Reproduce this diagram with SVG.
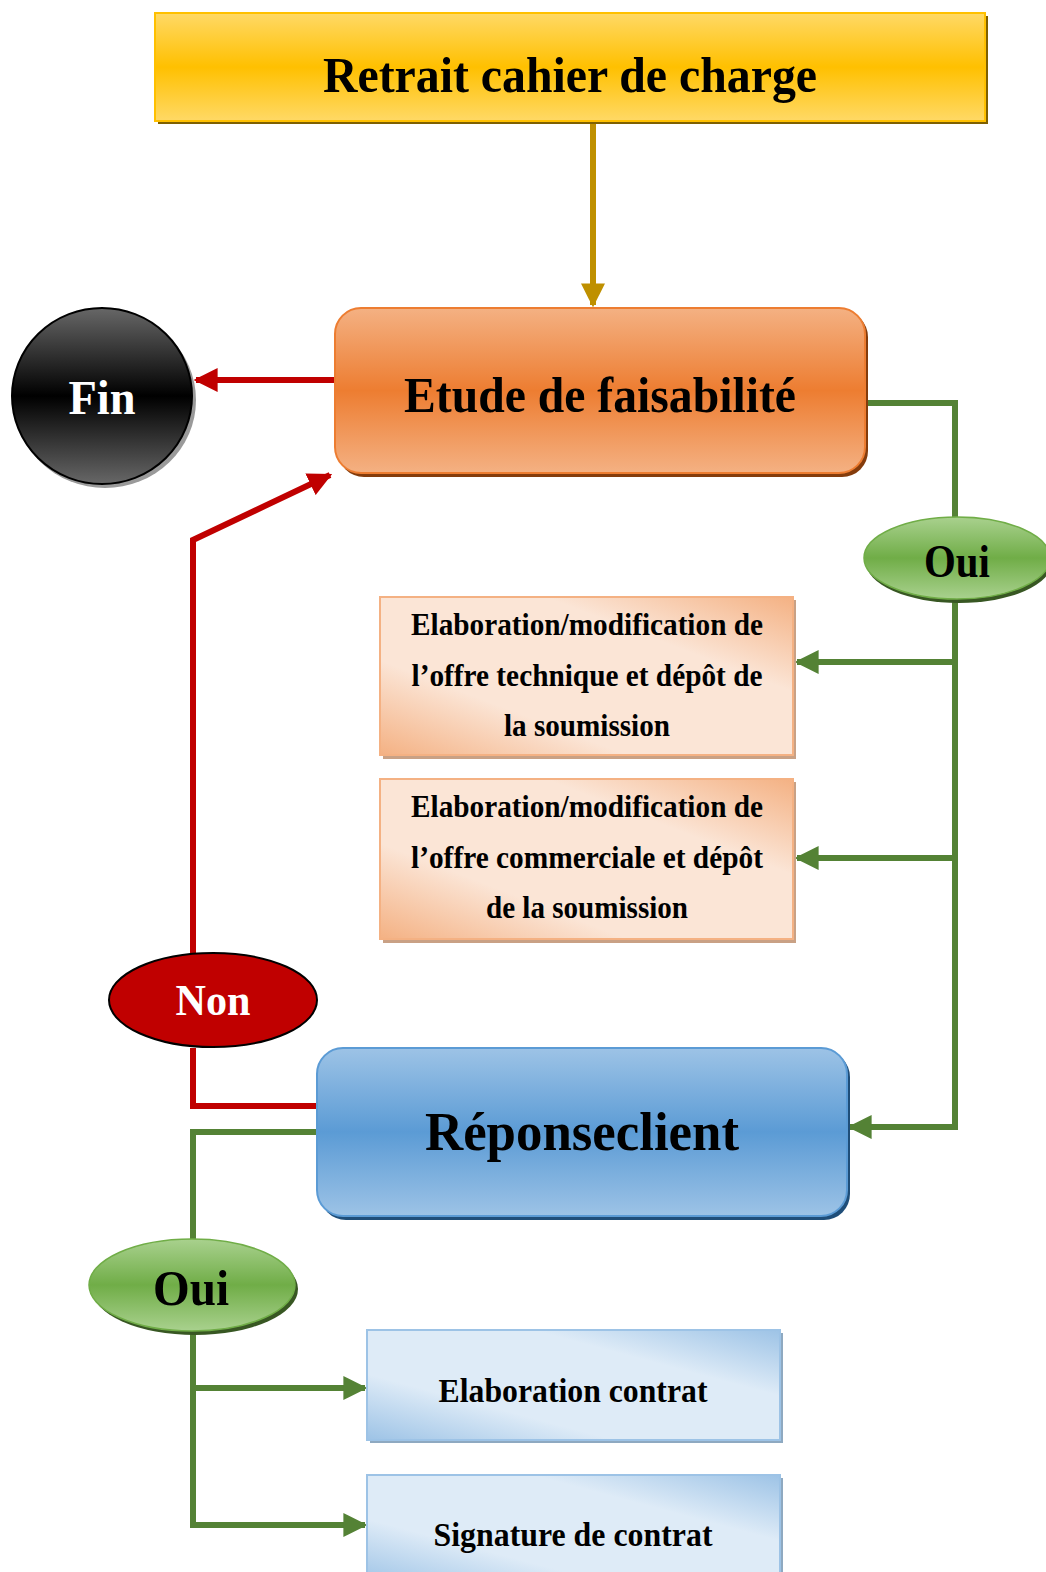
<svg xmlns="http://www.w3.org/2000/svg" width="1046" height="1572" viewBox="0 0 1046 1572">
<style>
text{font-family:"Liberation Serif","Times New Roman",serif;font-weight:bold;text-anchor:middle}
.dark{fill:#000}
.white{fill:#fff}
.red{stroke:#c00000;stroke-width:6;fill:none}
.grn{stroke:#548235;stroke-width:6;fill:none}
.gold{stroke:#bf9000;stroke-width:6;fill:none}
</style>
<defs>
<linearGradient id="gYel" x1="0" y1="0" x2="0" y2="1"><stop offset="0" stop-color="#ffd966"/><stop offset="0.5" stop-color="#ffc000"/><stop offset="1" stop-color="#ffd966"/></linearGradient>
<linearGradient id="gOr" x1="0" y1="0" x2="0" y2="1"><stop offset="0" stop-color="#f4b183"/><stop offset="0.5" stop-color="#ed7d31"/><stop offset="1" stop-color="#f4b183"/></linearGradient>
<linearGradient id="gBl" x1="0" y1="0" x2="0" y2="1"><stop offset="0" stop-color="#9dc3e6"/><stop offset="0.5" stop-color="#5b9bd5"/><stop offset="1" stop-color="#9dc3e6"/></linearGradient>
<linearGradient id="gGr" x1="0" y1="0" x2="0" y2="1"><stop offset="0" stop-color="#a9d18e"/><stop offset="0.5" stop-color="#70ad47"/><stop offset="1" stop-color="#a9d18e"/></linearGradient>
<linearGradient id="gBk" x1="0" y1="0" x2="0" y2="1"><stop offset="0" stop-color="#676767"/><stop offset="0.5" stop-color="#000"/><stop offset="1" stop-color="#676767"/></linearGradient>
<linearGradient id="gPe" x1="0" y1="1" x2="1" y2="0"><stop offset="0" stop-color="#f4b183"/><stop offset="0.3" stop-color="#fbe5d6"/><stop offset="0.7" stop-color="#fbe5d6"/><stop offset="1" stop-color="#f4b183"/></linearGradient>
<linearGradient id="gLb" x1="0" y1="1" x2="1" y2="0"><stop offset="0" stop-color="#9dc3e6"/><stop offset="0.3" stop-color="#deebf7"/><stop offset="0.7" stop-color="#deebf7"/><stop offset="1" stop-color="#9dc3e6"/></linearGradient>
<marker id="aR" viewBox="0 0 10 10" refX="9" refY="5" markerWidth="4" markerHeight="4" markerUnits="strokeWidth" orient="auto"><path d="M0,0 L10,5 L0,10 Z" fill="#c00000"/></marker>
<marker id="aG" viewBox="0 0 10 10" refX="9" refY="5" markerWidth="4" markerHeight="4" markerUnits="strokeWidth" orient="auto"><path d="M0,0 L10,5 L0,10 Z" fill="#548235"/></marker>
<marker id="aY" viewBox="0 0 10 10" refX="9" refY="5" markerWidth="4" markerHeight="4" markerUnits="strokeWidth" orient="auto"><path d="M0,0 L10,5 L0,10 Z" fill="#bf9000"/></marker>
</defs>

<g id="connectors">
<path class="gold" d="M593,122 V305" marker-end="url(#aY)"/>
<path class="red" d="M335,380 H196" marker-end="url(#aR)"/>
<path class="red" d="M193,955 V540 L330,475" marker-end="url(#aR)"/>
<path class="red" d="M193,1048 V1106 H318"/>
<path class="grn" d="M865,403 H955 V518"/>
<path class="grn" d="M955,598 V1127 H850" marker-end="url(#aG)"/>
<path class="grn" d="M955,662 H797" marker-end="url(#aG)"/>
<path class="grn" d="M955,858 H797" marker-end="url(#aG)"/>
<path class="grn" d="M317,1132 H193 V1240"/>
<path class="grn" d="M193,1330 V1525 H365" marker-end="url(#aG)"/>
<path class="grn" d="M193,1388 H365" marker-end="url(#aG)"/>
</g>

<g id="retrait">
<rect x="158" y="16" width="830" height="108" fill="#7f6000"/>
<rect x="155" y="13" width="830" height="108" fill="url(#gYel)" stroke="#ffc000" stroke-width="2"/>
<text x="570" y="92" font-size="50" class="dark" textLength="494" lengthAdjust="spacingAndGlyphs">Retrait cahier de charge</text>
</g>

<g id="etude">
<rect x="338" y="311" width="530" height="166" rx="26" fill="#843c0c"/>
<rect x="335" y="308" width="530" height="165" rx="26" fill="url(#gOr)" stroke="#ed7d31" stroke-width="2"/>
<text x="600" y="412" font-size="50" class="dark" textLength="392" lengthAdjust="spacingAndGlyphs">Etude de faisabilité</text>
</g>

<g id="fin">
<ellipse cx="105" cy="400" rx="91" ry="88" fill="#9a9a9a"/>
<ellipse cx="102" cy="396" rx="90" ry="88" fill="url(#gBk)" stroke="#000" stroke-width="2"/>
<text x="102" y="414" font-size="48" class="white" textLength="67" lengthAdjust="spacingAndGlyphs">Fin</text>
</g>

<g id="oui1">
<ellipse cx="959" cy="562" rx="93" ry="41" fill="#385723"/>
<ellipse cx="957" cy="558" rx="93" ry="41" fill="url(#gGr)" stroke="#70ad47" stroke-width="1.5"/>
<text x="957" y="577" font-size="46" class="dark" textLength="66" lengthAdjust="spacingAndGlyphs">Oui</text>
</g>

<g id="offre-technique">
<rect x="383" y="600" width="413" height="159" fill="#c9a185"/>
<rect x="380" y="597" width="413" height="158" fill="url(#gPe)" stroke="#f4b183" stroke-width="2"/>
<text x="587" y="635" font-size="31" class="dark" textLength="352" lengthAdjust="spacingAndGlyphs">Elaboration/modification de</text>
<text x="587" y="686" font-size="31" class="dark" textLength="351" lengthAdjust="spacingAndGlyphs">l’offre technique et dépôt de</text>
<text x="587" y="736" font-size="31" class="dark" textLength="166" lengthAdjust="spacingAndGlyphs">la soumission</text>
</g>

<g id="offre-commerciale">
<rect x="383" y="782" width="413" height="161" fill="#c9a185"/>
<rect x="380" y="779" width="413" height="160" fill="url(#gPe)" stroke="#f4b183" stroke-width="2"/>
<text x="587" y="817" font-size="31" class="dark" textLength="352" lengthAdjust="spacingAndGlyphs">Elaboration/modification de</text>
<text x="587" y="868" font-size="31" class="dark" textLength="352" lengthAdjust="spacingAndGlyphs">l’offre commerciale et dépôt</text>
<text x="587" y="918" font-size="31" class="dark" textLength="202" lengthAdjust="spacingAndGlyphs">de la soumission</text>
</g>

<g id="non">
<ellipse cx="213" cy="1000" rx="104" ry="47" fill="#c00000" stroke="#000" stroke-width="2"/>
<text x="213" y="1015" font-size="44" class="white" textLength="75" lengthAdjust="spacingAndGlyphs">Non</text>
</g>

<g id="reponseclient">
<rect x="320" y="1051" width="530" height="169" rx="26" fill="#1f4e79"/>
<rect x="317" y="1048" width="530" height="168" rx="26" fill="url(#gBl)" stroke="#5b9bd5" stroke-width="2"/>
<text x="582" y="1150" font-size="54" class="dark" textLength="314" lengthAdjust="spacingAndGlyphs">Réponseclient</text>
</g>

<g id="oui2">
<ellipse cx="195" cy="1289" rx="103" ry="46" fill="#385723"/>
<ellipse cx="192" cy="1285" rx="103" ry="46" fill="url(#gGr)" stroke="#70ad47" stroke-width="1.5"/>
<text x="191" y="1305" font-size="50" class="dark" textLength="76" lengthAdjust="spacingAndGlyphs">Oui</text>
</g>

<g id="elaboration-contrat">
<rect x="370" y="1333" width="413" height="110" fill="#8ea9c1"/>
<rect x="367" y="1330" width="413" height="110" fill="url(#gLb)" stroke="#9dc3e6" stroke-width="2"/>
<text x="573" y="1402" font-size="34" class="dark" textLength="269" lengthAdjust="spacingAndGlyphs">Elaboration contrat</text>
</g>

<g id="signature-contrat">
<rect x="370" y="1478" width="413" height="110" fill="#8ea9c1"/>
<rect x="367" y="1475" width="413" height="110" fill="url(#gLb)" stroke="#9dc3e6" stroke-width="2"/>
<text x="573" y="1546" font-size="34" class="dark" textLength="279" lengthAdjust="spacingAndGlyphs">Signature de contrat</text>
</g>
</svg>
